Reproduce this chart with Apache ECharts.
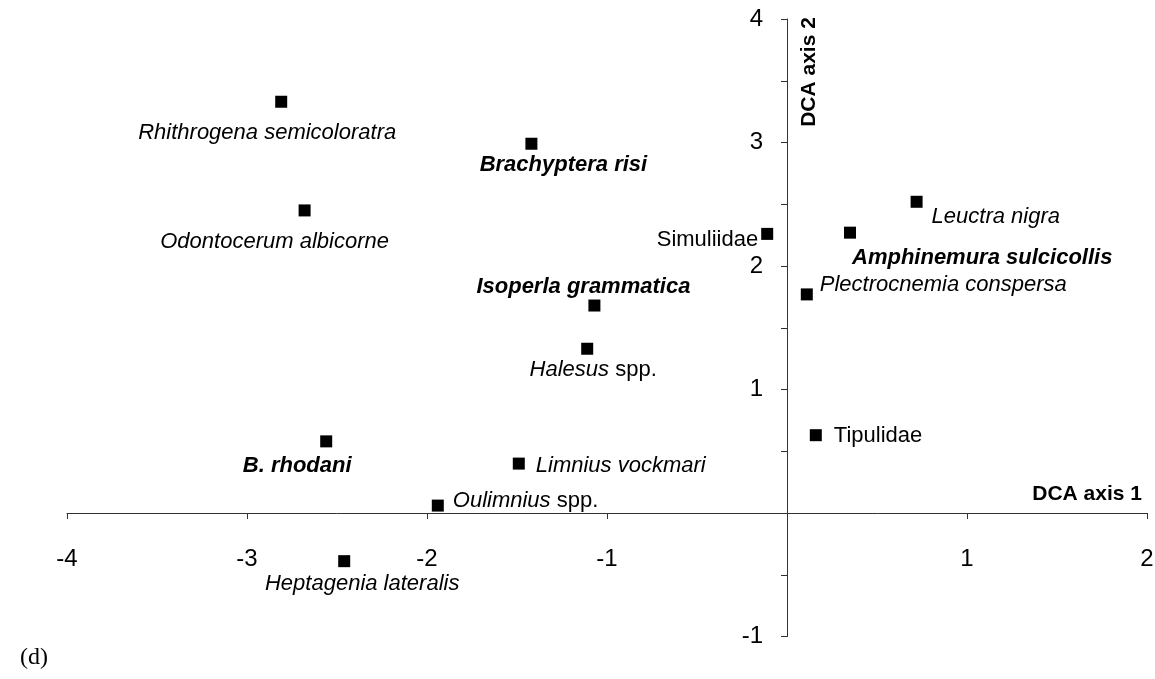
<!DOCTYPE html>
<html>
<head>
<meta charset="utf-8">
<script src="https://cdn.jsdelivr.net/npm/echarts@6/dist/echarts.min.js"></script>
<style>
    html, body { margin: 0; padding: 0; background: #fff; }
    #chart { width: 1155px; height: 679px; }
</style>
</head>
<body>
<div id="chart"></div>
<script>
    // taxa and their DCA scores
    const taxa = [
        'Rhithrogena semicoloratra', 'Brachyptera risi', 'Odontocerum albicorne', 'Simuliidae',
        'Leuctra nigra', 'Amphinemura sulcicollis', 'Plectrocnemia conspersa', 'Isoperla grammatica',
        'Halesus spp.', 'Tipulidae', 'B. rhodani', 'Limnius vockmari', 'Oulimnius spp.', 'Heptagenia lateralis'
    ]
    const axis1 = [-2.81, -1.42, -2.68, -0.11, 0.72, 0.35, 0.11, -1.07, -1.11, 0.16, -2.56, -1.49, -1.94, -2.46]
    const axis2 = [3.33, 2.99, 2.45, 2.26, 2.52, 2.27, 1.77, 1.68, 1.33, 0.63, 0.58, 0.40, 0.06, -0.39]
    const xTicks = [-4, -3, -2, -1, 1, 2]
    const yTicks = [-1, 1, 2, 3, 4]

    // label placement: [dx, dy, align, kind]
    const labelPlace = [
        [-14, 31, 'center', 'italic'],
        [32, 21, 'center', 'bold'],
        [-30, 31, 'center', 'italic'],
        [-9, 6, 'right', 'plain'],
        [15, 15, 'left', 'italic'],
        [2, 25, 'left', 'bold'],
        [13, -10, 'left', 'italic'],
        [-11, -19, 'center', 'bold'],
        [6, 21, 'center', 'mixed'],
        [18, 1, 'left', 'plain'],
        [-29, 25, 'center', 'bold'],
        [17, 2, 'left', 'italic'],
        [15, -5, 'left', 'mixed'],
        [18, 23, 'center', 'italic']
    ]

    const font = 'Liberation Sans, Arial, sans-serif'
    const data = taxa.map((name, i) => {
        const p = labelPlace[i]
        const label = {
            show: true,
            position: 'inside',
            offset: [p[0], p[1]],
            align: p[2],
            verticalAlign: 'middle',
            color: '#000',
            fontSize: 22,
            fontFamily: font,
            fontStyle: p[3] === 'italic' || p[3] === 'bold' ? 'italic' : 'normal',
            fontWeight: p[3] === 'bold' ? 'bold' : 'normal'
        }
        if (p[3] === 'mixed') {
            const parts = name.split(' ')
            label.formatter = '{i|' + parts[0] + '} ' + parts[1]
            label.rich = { i: { fontStyle: 'italic', fontSize: 22, fontFamily: font, color: '#000' } }
        } else {
            label.formatter = name
        }
        return { name: name, value: [axis1[i], axis2[i]], label: label }
    })

    const gridW = 1080
    const gridH = 617.5

    const myChart = echarts.init(document.getElementById('chart'))
    const option = {
        animation: false,
        grid: { left: 67, top: 19, width: gridW, height: gridH, outerBoundsMode: 'none', containLabel: false },
        xAxis: {
            type: 'value',
            min: -4,
            max: 2,
            interval: 1,
            offset: -gridH / 5, // axis sits on y = 0
            splitLine: { show: false },
            axisLine: { onZero: false, lineStyle: { color: '#333', width: 1 } },
            axisTick: { show: true, length: 6, lineStyle: { color: '#333' } },
            axisLabel: {
                margin: 34,
                color: '#000',
                fontSize: 24,
                fontFamily: font,
                formatter: v => xTicks.indexOf(v) >= 0 ? String(v) : ''
            }
        },
        yAxis: {
            type: 'value',
            min: -1,
            max: 4,
            interval: 0.5,
            offset: -gridW * 4 / 6, // axis sits on x = 0
            splitLine: { show: false },
            axisLine: { onZero: false, lineStyle: { color: '#333', width: 1 } },
            axisTick: { show: true, length: 6, lineStyle: { color: '#333' } },
            axisLabel: {
                margin: 24,
                color: '#000',
                fontSize: 24,
                fontFamily: font,
                formatter: v => yTicks.indexOf(v) >= 0 ? String(v) : ''
            }
        },
        graphic: [
            {
                type: 'text',
                x: 1142,
                y: 494,
                style: { text: 'DCA axis 1', textAlign: 'right', textVerticalAlign: 'middle', font: 'bold 21px ' + font, fill: '#000' }
            },
            {
                type: 'text',
                x: 809,
                y: 72,
                rotation: Math.PI / 2,
                style: { text: 'DCA axis 2', textAlign: 'center', textVerticalAlign: 'middle', font: 'bold 21px ' + font, fill: '#000' }
            },
            {
                type: 'text',
                x: 20,
                y: 658,
                style: { text: '(d)', textAlign: 'left', textVerticalAlign: 'middle', font: '24px Liberation Serif, serif', fill: '#000' }
            }
        ],
        series: [
            {
                type: 'scatter',
                symbol: 'rect',
                symbolSize: 12,
                itemStyle: { color: '#000', opacity: 1 },
                data: data
            }
        ]
    }
    myChart.setOption(option)
</script>
</body>
</html>
